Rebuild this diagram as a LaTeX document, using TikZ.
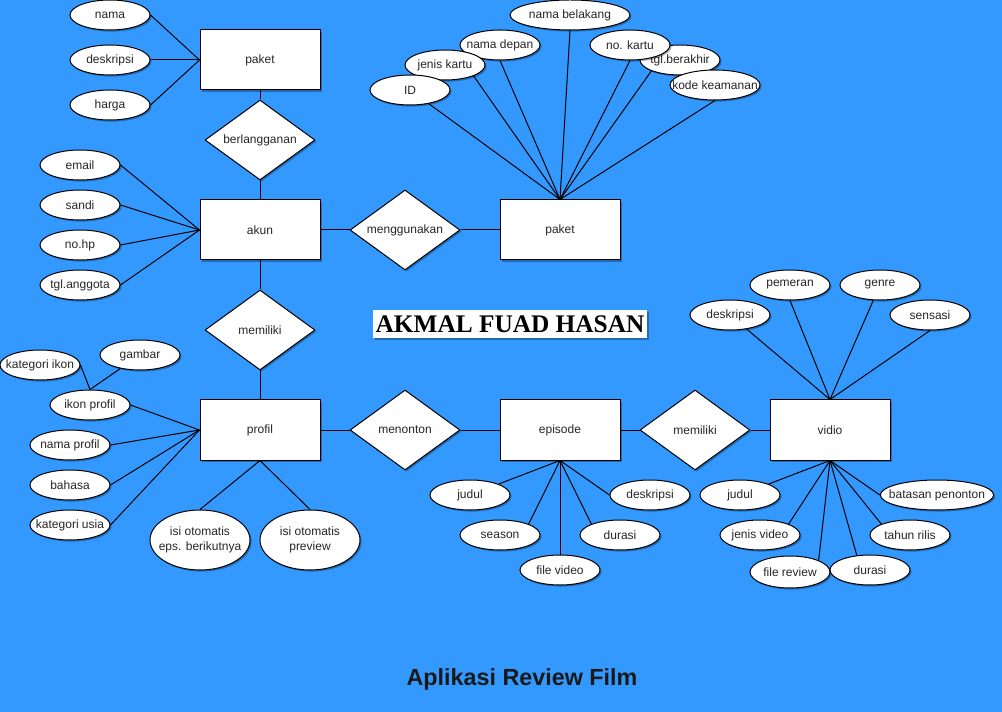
\documentclass[tikz,border=0pt]{standalone}
\usepackage{fontspec}
\setmainfont{Liberation Sans}
\newfontfamily\serifbold{Liberation Serif}
\usetikzlibrary{shapes.geometric,shadows}
\definecolor{bg}{RGB}{51,153,255}
\newcommand{\zw}[1]{\makebox[0pt]{#1}}
\newcommand{\zwt}[2]{\makebox[0pt]{\begin{tabular}{@{}c@{}}#1\\#2\end{tabular}}}
\begin{document}
\begin{tikzpicture}[x=0.75pt,y=-0.75pt,
  every node/.style={font=\fontsize{9}{11.25}\selectfont, text=black!85},
  sh/.style={drop shadow={shadow xshift=1.2pt, shadow yshift=-1.2pt, opacity=0.3, fill=black}},
  ent/.style={draw, fill=white, minimum width=90pt, minimum height=45pt, inner sep=0pt, line width=0.75pt, sh},
  rel/.style={diamond, draw, fill=white, minimum width=82.5pt, minimum height=60pt, inner sep=0pt, line width=0.75pt, sh},
  attr/.style={ellipse, draw, fill=white, minimum width=60pt, minimum height=22.5pt, inner sep=0pt, line width=0.75pt, sh},
  conn/.style={draw=black, line width=0.75pt}
]
\useasboundingbox (0,0) rectangle (1002,712);
\fill[bg] (0,0) rectangle (1002,712);

% entities and relations
\node[ent] (pk1) at (260,60) {paket};
\node[rel] (r1) at (260,140) {\zw{berlangganan}};
\node[ent] (akun) at (260,230) {akun};
\node[rel] (r2) at (405,230) {\zw{menggunakan}};
\node[ent] (pk2) at (560,230) {paket};
\node[rel] (r3) at (260,330) {\zw{memiliki}};
\node[ent] (prof) at (260,430) {profil};
\node[rel] (r4) at (405,430) {\zw{menonton}};
\node[ent] (eps) at (560,430) {episode};
\node[rel] (r5) at (695,430) {\zw{memiliki}};
\node[ent] (vid) at (830,430) {vidio};

% paket attributes
\node[attr] (nama) at (110,15) {\zw{nama}};
\node[attr] (desk) at (110,60) {\zw{deskripsi}};
\node[attr] (harga) at (110,105) {\zw{harga}};
% akun attributes
\node[attr] (email) at (80,165) {\zw{email}};
\node[attr] (sandi) at (80,205) {\zw{sandi}};
\node[attr] (nohp) at (80,245) {\zw{no.hp}};
\node[attr] (tgla) at (80,285) {\zw{tgl.anggota}};
% paket (kartu) attributes
\node[attr, minimum width=90pt] (nb) at (570,15) {\zw{nama belakang}};
\node[attr] (nd) at (500,45) {\zw{nama depan}};
\node[attr] (jk) at (445,65) {\zw{jenis kartu}};
\node[attr] (id) at (410,90) {\zw{ID}};
\node[attr] (tb) at (680,60) {\zw{tgl.berakhir}};
\node[attr] (nk) at (630,45) {\zw{no. kartu}};
\node[attr, minimum width=67.5pt] (kk) at (715,85) {\zw{kode keamanan}};
% profil attributes
\node[attr] (gam) at (140,355) {\zw{gambar}};
\node[attr] (kik) at (40,365) {\zw{kategori ikon}};
\node[attr] (ikp) at (90,405) {\zw{ikon profil}};
\node[attr] (nmp) at (70,445) {\zw{nama profil}};
\node[attr] (bhs) at (70,485) {\zw{bahasa}};
\node[attr] (kus) at (70,525) {\zw{kategori usia}};
\node[attr, minimum width=75pt, minimum height=45pt] (isi1) at (200,540) {\zwt{isi otomatis}{eps. berikutnya}};
\node[attr, minimum width=75pt, minimum height=45pt] (isi2) at (310,540) {\zwt{isi otomatis}{preview}};
% episode attributes
\node[attr] (ejud) at (470,495) {\zw{judul}};
\node[attr] (esea) at (500,535) {\zw{season}};
\node[attr] (efil) at (560,570) {\zw{file video}};
\node[attr] (edur) at (620,535) {\zw{durasi}};
\node[attr] (edes) at (650,495) {\zw{deskripsi}};
% vidio attributes
\node[attr] (vdes) at (730,315) {\zw{deskripsi}};
\node[attr] (vpem) at (790,285) {\zw{pemeran}};
\node[attr] (vgen) at (880,285) {\zw{genre}};
\node[attr] (vsen) at (930,315) {\zw{sensasi}};
\node[attr] (vjud) at (740,495) {\zw{judul}};
\node[attr] (vjen) at (760,535) {\zw{jenis video}};
\node[attr, minimum height=24pt] (vfil) at (790,572) {\zw{file review}};
\node[attr] (vdur) at (870,570) {\zw{durasi}};
\node[attr] (vtah) at (910,535) {\zw{tahun rilis}};
\node[attr, minimum width=85pt] (vbat) at (937,495) {\zw{batasan penonton}};

% titles
\node[fill=white, minimum width=205.5pt, minimum height=21pt, inner sep=0pt, sh,
      font=\serifbold\bfseries\fontsize{19}{21}\selectfont, text=black] (author) at (510,324) {AKMAL FUAD HASAN};
\node[font=\bfseries\fontsize{17.5}{20}\selectfont, text=black!90] (title) at (522,679) {Aplikasi Review Film};

% relationship connectors
\draw[conn] (pk1.south) -- (r1.north);
\draw[conn] (r1.south) -- (akun.north);
\draw[conn] (akun.east) -- (r2.west);
\draw[conn] (r2.east) -- (pk2.west);
\draw[conn] (akun.south) -- (r3.north);
\draw[conn] (r3.south) -- (prof.north);
\draw[conn] (prof.east) -- (r4.west);
\draw[conn] (r4.east) -- (eps.west);
\draw[conn] (eps.east) -- (r5.west);
\draw[conn] (r5.east) -- (vid.west);

% attribute connectors
\foreach \a in {nama,desk,harga} \draw[conn] (\a.east) -- (pk1.west);
\foreach \a in {email,sandi,nohp,tgla} \draw[conn] (\a.east) -- (akun.west);
\draw[conn] (id) -- (pk2.north);
\draw[conn] (jk.south east) -- (pk2.north);
\draw[conn] (nd.south) -- (pk2.north);
\draw[conn] (nb.south) -- (pk2.north);
\draw[conn] (nk.south) -- (pk2.north);
\draw[conn] (tb.south west) -- (pk2.north);
\draw[conn] (kk.south) -- (pk2.north);

\draw[conn] (kik.east) -- (ikp.north);
\draw[conn] (gam) -- (ikp.north);
\foreach \a in {ikp,nmp,bhs,kus} \draw[conn] (\a.east) -- (prof.west);
\draw[conn] (isi1.north) -- (prof.south);
\draw[conn] (isi2.north) -- (prof.south);

\draw[conn] (ejud.north east) -- (eps.south);
\draw[conn] (esea.north east) -- (eps.south);
\draw[conn] (efil.north) -- (eps.south);
\draw[conn] (edur.north west) -- (eps.south);
\draw[conn] (edes.west) -- (eps.south);

\draw[conn] (vdes) -- (vid.north);
\draw[conn] (vpem.south) -- (vid.north);
\draw[conn] (vgen) -- (vid.north);
\draw[conn] (vsen.south) -- (vid.north);
\draw[conn] (vjud.north east) -- (vid.south);
\draw[conn] (vjen.north east) -- (vid.south);
\draw[conn] (vfil.north east) -- (vid.south);
\draw[conn] (vdur.132) -- (vid.south);
\draw[conn] (vtah.north west) -- (vid.south);
\draw[conn] (vbat.west) -- (vid.south);
\end{tikzpicture}
\end{document}
